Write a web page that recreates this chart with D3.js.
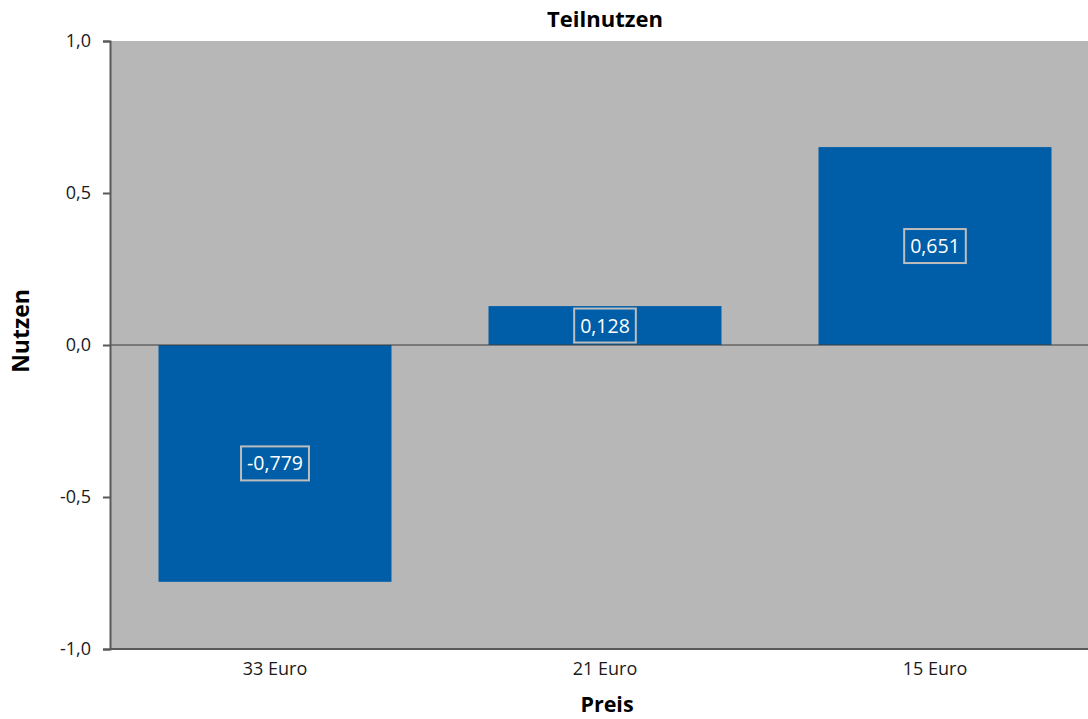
<!DOCTYPE html>
<html><head><meta charset="utf-8">
<script src="https://cdn.jsdelivr.net/npm/d3@7"></script>
<style>body{margin:0;background:#fff;}svg{display:block;font-family:"Open Sans",sans-serif;}</style>
</head><body>
<svg id="c" width="1088" height="719"></svg>
<script>
const categories = ["33 Euro", "21 Euro", "15 Euro"];
const values = [-0.779, 0.128, 0.651];
const yTicks = [-1.0, -0.5, 0.0, 0.5, 1.0];
const title = "Teilnutzen";
const xTitle = "Preis";
const yTitle = "Nutzen";

const FONT = "'Open Sans', sans-serif";
const svg = d3.select("#c");
const m = {left:110, top:41, bottom:649, right:1100};
const x = d3.scaleBand().domain(categories).range([m.left, m.right]).paddingInner(0.294).paddingOuter(0.147);
const y = d3.scaleLinear().domain([-1, 1]).range([m.bottom, m.top]);
const fmt = v => d3.format(".1f")(v).replace(".", ",").replace("−","-");
const fmt3 = v => d3.format(".3f")(v).replace(".", ",").replace("−","-");

svg.append("rect").attr("x", m.left).attr("y", m.top).attr("width", m.right - m.left).attr("height", m.bottom - m.top).attr("fill", "#b7b7b7");

svg.selectAll("rect.bar").data(values).enter().append("rect").attr("class","bar")
  .attr("x", (d,i) => x(categories[i]))
  .attr("width", x.bandwidth())
  .attr("y", d => y(Math.max(0,d)))
  .attr("height", d => Math.abs(y(d) - y(0)))
  .attr("fill", "#005ea8");

svg.append("line").attr("x1", m.left).attr("x2", 1088).attr("y1", y(0)).attr("y2", y(0)).attr("stroke","#3a3a3a").attr("stroke-width",1);

const ya = svg.append("g").attr("transform", `translate(${m.left},0)`)
  .call(d3.axisLeft(y).tickValues(yTicks).tickFormat(fmt).tickSize(7).tickPadding(12));
ya.select(".domain").attr("stroke","#595959").attr("stroke-width",2);
ya.selectAll(".tick line").attr("stroke","#595959").attr("stroke-width",2);
ya.selectAll("text").attr("font-size",18).attr("fill","#1a1a1a").attr("font-family",FONT);

const xa = svg.append("g").attr("transform", `translate(0,${m.bottom})`)
  .call(d3.axisBottom(x).tickSize(0).tickPadding(13));
xa.select(".domain").attr("stroke","#595959").attr("stroke-width",2).attr("d", `M${m.left},0H1088`);
xa.selectAll("text").attr("font-size",18).attr("fill","#1a1a1a").attr("font-family",FONT);

const lab = svg.selectAll("g.lab").data(values).enter().append("g").attr("class","lab")
  .attr("transform", (d,i) => `translate(${x(categories[i]) + x.bandwidth()/2},${(y(d)+y(0))/2})`);
lab.append("text").text(d => fmt3(d)).attr("text-anchor","middle").attr("dy","0.36em")
  .attr("fill","#fff").attr("font-size",19.5).attr("font-family",FONT);
lab.each(function(){
  const g = d3.select(this);
  const bb = g.select("text").node().getBBox();
  g.insert("rect","text").attr("x", bb.x - 6).attr("y", -17).attr("width", bb.width + 12).attr("height", 34)
    .attr("fill","#005ea8").attr("stroke","#bdbdbd").attr("stroke-width",2);
});

svg.append("text").text(title).attr("x", (m.left+m.right)/2).attr("y", 27).attr("text-anchor","middle")
  .attr("font-weight","bold").attr("font-size",22).attr("fill","#000").attr("font-family",FONT);
svg.append("text").text(xTitle).attr("x", 607).attr("y", 712).attr("text-anchor","middle")
  .attr("font-weight","bold").attr("font-size",21.5).attr("fill","#000").attr("font-family",FONT);
svg.append("text").text(yTitle).attr("transform", `translate(29,331) rotate(-90)`).attr("text-anchor","middle")
  .attr("font-weight","bold").attr("font-size",23).attr("fill","#000").attr("font-family",FONT);
</script>
</body></html>
